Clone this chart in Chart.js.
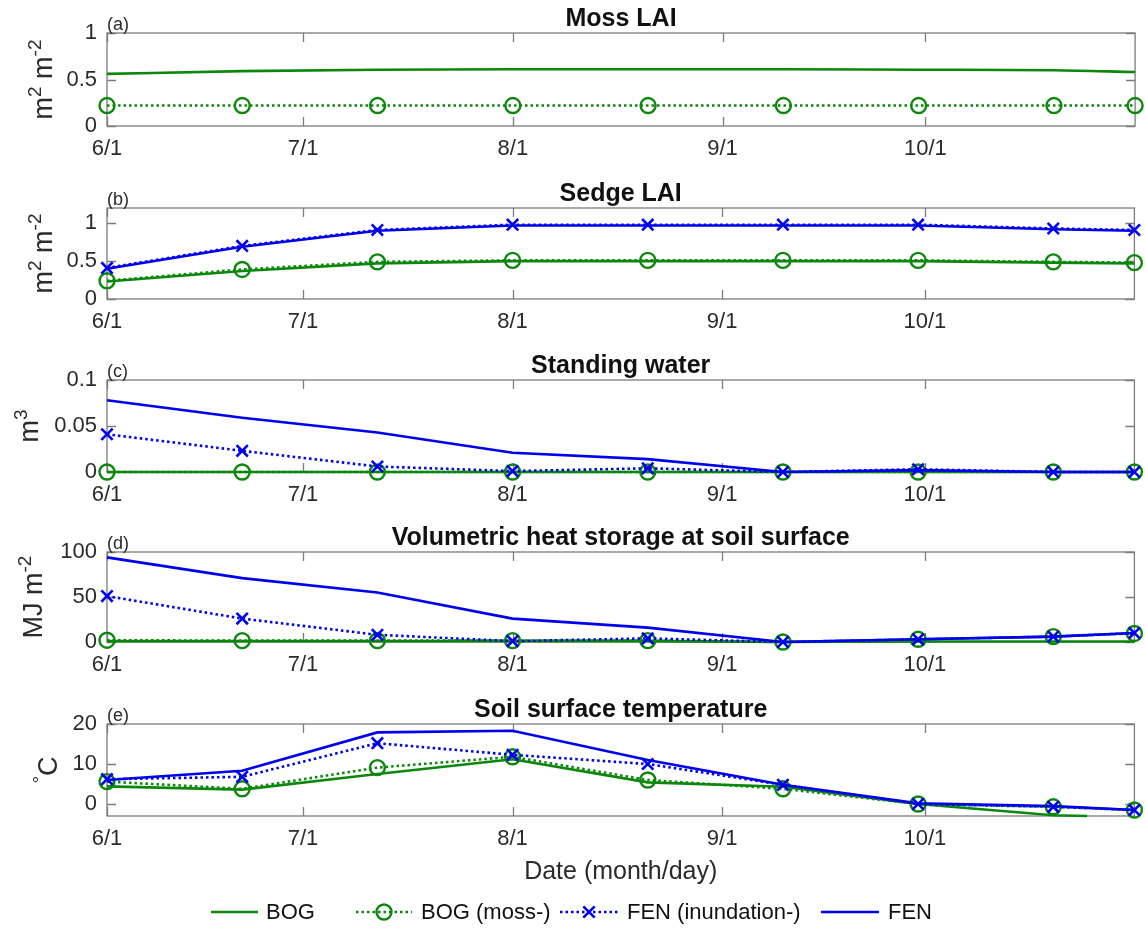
<!DOCTYPE html>
<html><head><meta charset="utf-8">
<script src="https://cdn.jsdelivr.net/npm/chart.js@4.4.0/dist/chart.umd.min.js"></script>
<style>
html,body{margin:0;padding:0;background:#fff;}
#wrap{position:relative;width:1145px;height:930px;overflow:hidden;background:#fff;}
#wrap canvas{position:absolute;left:0;}
</style></head><body><div id="wrap"></div>
<script>
// ---------- DATA ----------
const days = [0, 20, 40, 60, 80, 100, 120, 140, 152];
const tickDays = [0, 29, 60, 91, 121];
const tickLabels = ['6/1', '7/1', '8/1', '9/1', '10/1'];
const seriesNames = ['BOG', 'BOG (moss-)', 'FEN (inundation-)', 'FEN'];

// (a) Moss LAI
const mossBog     = [0.56, 0.59, 0.605, 0.61, 0.61, 0.61, 0.605, 0.60, 0.58];
const mossBogMoss = [0.22, 0.22, 0.22, 0.22, 0.22, 0.22, 0.22, 0.22, 0.22];
const mossYTicks = [0, 0.5, 1];
const mossYLabels = ['0', '0.5', '1'];

// (b) Sedge LAI
const sedgeBog      = [0.23, 0.37, 0.47, 0.50, 0.50, 0.50, 0.50, 0.48, 0.47];
const sedgeBogMoss  = [0.24, 0.39, 0.49, 0.51, 0.51, 0.51, 0.51, 0.49, 0.48];
const sedgeFenInund = [0.41, 0.70, 0.91, 0.98, 0.98, 0.98, 0.98, 0.93, 0.91];
const sedgeFen      = [0.40, 0.69, 0.90, 0.97, 0.97, 0.97, 0.97, 0.92, 0.90];
const sedgeYTicks = [0, 0.5, 1];
const sedgeYLabels = ['0', '0.5', '1'];

// (c) Standing water
const waterBog      = [0, 0, 0, 0, 0, 0, 0, 0, 0];
const waterBogMoss  = [0, 0, 0, 0, 0, 0, 0, 0, 0];
const waterFenInund = [0.041, 0.023, 0.006, 0.001, 0.004, 0, 0.003, 0, 0];
const waterFen      = [0.078, 0.059, 0.043, 0.021, 0.014, 0, 0.002, 0, 0];
const waterYTicks = [0, 0.05, 0.1];
const waterYLabels = ['0', '0.05', '0.1'];

// (d) Volumetric heat storage at soil surface
const heatBog      = [1, 1, 1, 1, 1, 0, 0.5, 0.5, 0.5];
const heatBogMoss  = [2, 1.5, 1.5, 1.5, 1.5, 0, 3, 6, 9.5];
const heatFenInund = [51, 26, 8, 1, 4, 0, 3, 6, 10];
const heatFen      = [94, 71, 55, 26, 16, 0, 3, 6, 10];
const heatYTicks = [0, 50, 100];
const heatYLabels = ['0', '50', '100'];

// (e) Soil surface temperature
const tempBogDays  = [0, 20, 40, 60, 80, 100, 120, 140, 145];
const tempBog      = [4.4, 3.6, 7.5, 11.2, 5.4, 4.3, 0, -2.8, -3.0];
const tempBogMoss  = [5.6, 3.8, 9.1, 11.8, 6.0, 3.8, 0, -0.7, -1.5];
const tempFenInund = [6.2, 6.8, 15.2, 12.3, 10.0, 4.8, 0, -0.7, -1.5];
const tempFen      = [6.0, 8.3, 17.9, 18.3, 11.0, 4.8, 0.2, -0.5, -1.5];
const tempYTicks = [0, 10, 20];
const tempYLabels = ['0', '10', '20'];

// ---------- STYLE ----------
const GREEN = '#0b880b';
const BLUE = '#0000ee';
const FRAME = '#7c7c7c';
const TXT = '#2b2b2b';
const FONT = '"Liberation Sans", Arial, Helvetica, sans-serif';
const W = 1145, PLOT_LEFT = 107, PLOT_RIGHT = 1137;

function pts(xs, ys) { return xs.map((x, i) => ({x: x, y: ys[i]})); }

function dsBog(xs, ys, smooth) {
  return {label: seriesNames[0], data: pts(xs, ys), borderColor: GREEN, borderWidth: 2.6,
    pointRadius: 0, pointHoverRadius: 0, clip: false, order: 3,
    tension: smooth ? 0.4 : 0, cubicInterpolationMode: smooth ? 'monotone' : 'default'};
}
function dsBogMoss(xs, ys) {
  return {label: seriesNames[1], data: pts(xs, ys), borderColor: GREEN, borderWidth: 2.6,
    borderDash: [2.5, 3], pointStyle: 'circle', pointRadius: 7.5, pointBorderWidth: 2.4,
    pointBorderColor: GREEN, pointBackgroundColor: 'rgba(0,0,0,0)', clip: false, order: 2, tension: 0};
}
function dsFenInund(xs, ys) {
  return {label: seriesNames[2], data: pts(xs, ys), borderColor: BLUE, borderWidth: 2.6,
    borderDash: [2.5, 3], pointStyle: 'crossRot', pointRadius: 8, pointBorderWidth: 2.6,
    pointBorderColor: BLUE, pointBackgroundColor: BLUE, clip: false, order: 1, tension: 0};
}
function dsFen(xs, ys) {
  return {label: seriesNames[3], data: pts(xs, ys), borderColor: BLUE, borderWidth: 2.6,
    pointRadius: 0, pointHoverRadius: 0, clip: false, order: 0, tension: 0};
}

const panels = [
  {T: 33, B: 126, min: 0, max: 1, yTicks: mossYTicks, yLabels: mossYLabels, tag: '(a)', title: 'Moss LAI',
   ytitle: [['m'], ['2', 1], [' m'], ['-2', 1]], ytx: 52,
   datasets: [dsBog(days, mossBog, true), dsBogMoss(days, mossBogMoss)]},
  {T: 208, B: 299, min: 0, max: 1.2, yTicks: sedgeYTicks, yLabels: sedgeYLabels, tag: '(b)', title: 'Sedge LAI',
   ytitle: [['m'], ['2', 1], [' m'], ['-2', 1]], ytx: 52,
   datasets: [dsBog(days, sedgeBog), dsBogMoss(days, sedgeBogMoss), dsFenInund(days, sedgeFenInund), dsFen(days, sedgeFen)]},
  {T: 380, B: 472, min: 0, max: 0.1, yTicks: waterYTicks, yLabels: waterYLabels, tag: '(c)', title: 'Standing water',
   ytitle: [['m'], ['3', 1]], ytx: 38,
   datasets: [dsBog(days, waterBog), dsBogMoss(days, waterBogMoss), dsFenInund(days, waterFenInund), dsFen(days, waterFen)]},
  {T: 552, B: 642, min: 0, max: 100, yTicks: heatYTicks, yLabels: heatYLabels, tag: '(d)', title: 'Volumetric heat storage at soil surface',
   ytitle: [['MJ m'], ['-2', 1]], ytx: 42,
   datasets: [dsBog(days, heatBog), dsBogMoss(days, heatBogMoss), dsFenInund(days, heatFenInund), dsFen(days, heatFen)]},
  {T: 724, B: 816, min: -3, max: 20, yTicks: tempYTicks, yLabels: tempYLabels, tag: '(e)', title: 'Soil surface temperature',
   ytitle: [['\u00B0', 1], ['C']], ytx: 57, last: true,
   datasets: [dsBog(tempBogDays, tempBog), dsBogMoss(days, tempBogMoss), dsFenInund(days, tempFenInund), dsFen(days, tempFen)]}
];

function drawRich(ctx, segs, size) {
  let total = 0;
  const m = segs.map(s => {
    ctx.font = (s[1] ? Math.round(size * 0.7) : size) + 'px ' + FONT;
    const w = ctx.measureText(s[0]).width; total += w; return w;
  });
  let x = -total / 2;
  segs.forEach((s, i) => {
    ctx.font = (s[1] ? Math.round(size * 0.7) : size) + 'px ' + FONT;
    ctx.fillText(s[0], x, s[1] ? -size * 0.42 : 0);
    x += m[i];
  });
}

function drawLegend(ctx, cy) {
  const items = [
    {x0: 211, x1: 258, tx: 266, dash: [], color: GREEN, marker: null},
    {x0: 356, x1: 412, tx: 421, dash: [2.5, 3], color: GREEN, marker: 'circle'},
    {x0: 560, x1: 618, tx: 627, dash: [2.5, 3], color: BLUE, marker: 'x'},
    {x0: 821, x1: 879, tx: 888, dash: [], color: BLUE, marker: null}
  ];
  ctx.save();
  items.forEach((it, i) => {
    ctx.strokeStyle = it.color; ctx.lineWidth = 2.6; ctx.setLineDash(it.dash);
    ctx.beginPath(); ctx.moveTo(it.x0, cy); ctx.lineTo(it.x1, cy); ctx.stroke();
    ctx.setLineDash([]);
    const mx = (it.x0 + it.x1) / 2;
    if (it.marker === 'circle') {
      ctx.lineWidth = 2.4; ctx.beginPath(); ctx.arc(mx, cy, 7.5, 0, Math.PI * 2); ctx.stroke();
    } else if (it.marker === 'x') {
      const r = 5.7; ctx.lineWidth = 2.6; ctx.beginPath();
      ctx.moveTo(mx - r, cy - r); ctx.lineTo(mx + r, cy + r); ctx.moveTo(mx + r, cy - r); ctx.lineTo(mx - r, cy + r); ctx.stroke();
    }
    ctx.fillStyle = '#111'; ctx.font = '22px ' + FONT; ctx.textAlign = 'left'; ctx.textBaseline = 'middle';
    ctx.fillText(seriesNames[i], it.tx, cy + 1);
  });
  ctx.restore();
}

const panelPlugin = {
  id: 'panelDeco',
  beforeDatasetsDraw(chart) {
    const p = chart.options.plugins.panelDeco;
    const {ctx, chartArea: a} = chart;
    const x = chart.scales.x, y = chart.scales.y;
    ctx.save();
    ctx.strokeStyle = FRAME; ctx.lineWidth = 1.3;
    ctx.strokeRect(a.left, a.top, a.right - a.left, a.bottom - a.top);
    ctx.beginPath();
    tickDays.forEach(v => {
      const px = Math.round(x.getPixelForValue(v)) + 0.5;
      ctx.moveTo(px, a.bottom); ctx.lineTo(px, a.bottom - 9);
      ctx.moveTo(px, a.top); ctx.lineTo(px, a.top + 9);
    });
    p.yTicks.forEach(v => {
      const py = Math.round(y.getPixelForValue(v)) + 0.5;
      ctx.moveTo(a.left, py); ctx.lineTo(a.left + 9, py);
      ctx.moveTo(a.right, py); ctx.lineTo(a.right - 9, py);
    });
    ctx.stroke();
    ctx.restore();
  },
  afterDraw(chart) {
    const p = chart.options.plugins.panelDeco;
    const {ctx, chartArea: a} = chart;
    ctx.save();
    // title
    ctx.fillStyle = '#111'; ctx.font = 'bold 25px ' + FONT;
    ctx.textAlign = 'center'; ctx.textBaseline = 'alphabetic';
    ctx.fillText(p.title, (a.left + a.right) / 2, a.top - 7);
    // tag
    ctx.font = '18px ' + FONT; ctx.textAlign = 'left'; ctx.fillStyle = TXT;
    ctx.fillText(p.tag, a.left, a.top - 3);
    // y title
    ctx.save();
    ctx.translate(p.ytx, (a.top + a.bottom) / 2);
    ctx.rotate(-Math.PI / 2);
    ctx.fillStyle = TXT; ctx.textAlign = 'left'; ctx.textBaseline = 'alphabetic';
    drawRich(ctx, p.ytitle, 27);
    ctx.restore();
    if (p.last) {
      ctx.fillStyle = TXT; ctx.font = '25px ' + FONT; ctx.textAlign = 'center'; ctx.textBaseline = 'middle';
      ctx.fillText('Date (month/day)', (a.left + a.right) / 2, 872 - p.top0);
      drawLegend(ctx, 912 - p.top0);
    }
    ctx.restore();
  }
};

const wrap = document.getElementById('wrap');
panels.forEach((p, i) => {
  const top0 = Math.max(0, p.T - 40);
  const h = p.last ? 930 - top0 : p.B + 42 - top0;
  const xH = h - (p.B - top0);
  const cv = document.createElement('canvas');
  cv.width = W; cv.height = h;
  cv.style.top = top0 + 'px'; cv.style.width = W + 'px'; cv.style.height = h + 'px';
  wrap.appendChild(cv);
  new Chart(cv.getContext('2d'), {
    type: 'line',
    data: {datasets: p.datasets},
    options: {
      responsive: false, maintainAspectRatio: false, animation: false, devicePixelRatio: 1,
      layout: {padding: {top: p.T - top0, left: 0, right: W - PLOT_RIGHT, bottom: 0}},
      plugins: {
        legend: {display: false}, tooltip: {enabled: false}, title: {display: false},
        panelDeco: {title: p.title, tag: p.tag, yTicks: p.yTicks, ytitle: p.ytitle, ytx: p.ytx, last: !!p.last, top0: top0}
      },
      scales: {
        x: {
          type: 'linear', min: 0, max: 152,
          afterBuildTicks: s => { s.ticks = tickDays.map(v => ({value: v})); },
          afterFit: s => { s.height = xH; },
          grid: {display: false, drawTicks: false}, border: {display: false},
          ticks: {autoSkip: false, maxRotation: 0, padding: 10, color: TXT, font: {family: FONT, size: 22},
            callback: (v, idx) => tickLabels[idx]}
        },
        y: {
          type: 'linear', min: p.min, max: p.max,
          afterBuildTicks: s => { s.ticks = p.yTicks.map(v => ({value: v})); },
          afterFit: s => { s.width = PLOT_LEFT; },
          grid: {display: false, drawTicks: false}, border: {display: false},
          ticks: {padding: 10, color: TXT, font: {family: FONT, size: 22},
            callback: (v, idx) => p.yLabels[idx]}
        }
      }
    },
    plugins: [panelPlugin]
  });
});
</script></body></html>
